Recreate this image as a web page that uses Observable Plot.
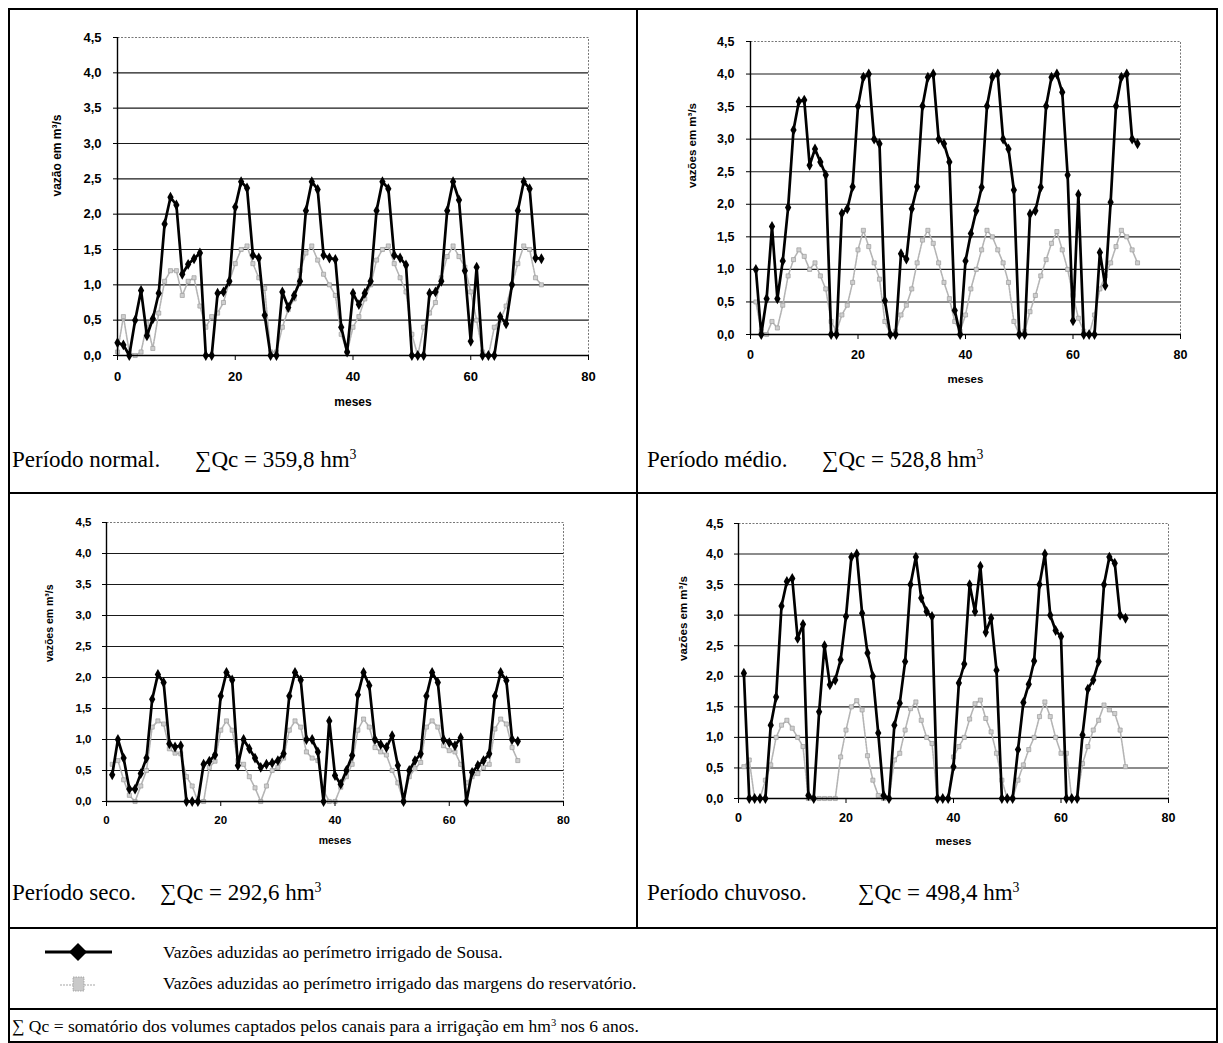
<!DOCTYPE html>
<html><head><meta charset="utf-8">
<script src="https://cdn.jsdelivr.net/npm/d3@7"></script>
<script src="https://cdn.jsdelivr.net/npm/@observablehq/plot@0.6"></script>
<style>
body{margin:0;background:#fff;}
#page{position:relative;width:1223px;height:1043px;overflow:hidden;background:#fff;font-family:"Liberation Serif","Times New Roman",serif;color:#000;}
.ln{position:absolute;background:#000;}
.cap{position:absolute;font-size:23px;white-space:nowrap;line-height:26px;}
.leg{position:absolute;font-size:17.5px;white-space:nowrap;line-height:20px;}
.chart{position:absolute;}
sup{font-size:60%;vertical-align:0;position:relative;top:-0.55em;}
</style></head><body><div id="page"></div>
<script>
// ---------- data (m3/s per month) ----------
const yTicks = [0,0.5,1,1.5,2,2.5,3,3.5,4,4.5];
const xTicks = [0,20,40,60,80];

// Período normal (months 0..72)
const normalMonthStart = 0;
const normalSousa = [0.18,0.15,0,0.5,0.92,0.28,0.52,0.88,1.86,2.24,2.13,1.15,
 1.29,1.37,1.45,0,0,0.88,0.9,1.05,2.1,2.46,2.37,1.42,
 1.38,0.57,0,0,0.9,0.68,0.85,1.05,2.05,2.46,2.35,1.42,
 1.38,1.36,0.4,0.05,0.88,0.72,0.88,1.05,2.05,2.46,2.36,1.42,
 1.38,1.28,0,0,0,0.88,0.9,1.05,2.05,2.46,2.2,1.2,
 0.2,1.25,0,0,0,0.55,0.45,1.0,2.05,2.46,2.36,1.38,1.37];
const normalMargens = [0.05,0.55,0.05,0.0,0.05,0.45,0.1,0.6,1.05,1.2,1.2,0.85,
 1.05,1.1,0.7,0.4,0.55,0.6,0.75,1.05,1.3,1.5,1.55,1.3,
 1.1,0.95,0.05,0.05,0.4,0.65,0.8,1.2,1.45,1.55,1.35,1.15,
 1.0,0.85,0.3,0.05,0.4,0.55,0.8,1.0,1.35,1.5,1.55,1.3,
 1.1,0.9,0.3,0.0,0.4,0.6,0.75,1.1,1.4,1.55,1.4,1.25,
 0.9,0.5,0.05,0.0,0.4,0.5,0.7,1.0,1.3,1.55,1.5,1.1,1.0];

// Período médio (months 1..72)
const medioMonthStart = 1;
const medioSousa = [1.0,0.0,0.55,1.66,0.55,1.13,1.95,3.14,3.58,3.6,2.6,2.85,
 2.65,2.45,0,0,1.86,1.93,2.27,3.51,3.95,4.0,3.0,2.93,
 0.52,0,0,1.24,1.16,1.93,2.27,3.51,3.95,4.0,3.0,2.93,
 2.65,0.37,0,1.13,1.55,1.9,2.26,3.51,3.95,4.0,3.0,2.85,
 2.22,0,0,1.85,1.9,2.26,3.51,3.95,4.0,3.72,2.45,0.21,
 2.15,0,0,0,1.26,0.75,2.03,3.51,3.95,4.0,3.0,2.93];
const medioMargens = [0.5,0.05,0.0,0.2,0.1,0.45,0.9,1.15,1.3,1.2,1.0,1.1,
 0.9,0.7,0.2,0.05,0.3,0.45,0.8,1.3,1.6,1.35,1.1,0.85,
 0.2,0.0,0.05,0.3,0.45,0.7,1.1,1.45,1.6,1.4,1.1,0.8,
 0.55,0.2,0.05,0.3,0.7,1.0,1.3,1.6,1.5,1.3,1.1,0.8,
 0.2,0.0,0.05,0.35,0.6,0.9,1.15,1.4,1.58,1.3,1.0,0.6,
 0.25,0.05,0.0,0.3,0.7,0.9,1.1,1.35,1.6,1.5,1.3,1.1];

// Período seco (months 1..72)
const secoMonthStart = 1;
const secoSousa = [0.43,1.0,0.7,0.2,0.2,0.45,0.7,1.65,2.05,1.92,0.93,0.88,
 0.9,0,0,0,0.6,0.65,0.75,1.7,2.08,1.96,0.58,1.0,
 0.85,0.7,0.55,0.6,0.62,0.66,0.77,1.7,2.08,1.96,1.0,1.0,
 0.8,0.0,1.3,0.42,0.28,0.5,0.74,1.72,2.08,1.87,1.0,0.92,
 0.87,1.06,0.58,0.0,0.5,0.66,0.77,1.7,2.08,1.92,1.0,0.95,
 0.9,1.03,0.0,0.47,0.58,0.66,0.77,1.7,2.08,1.95,1.0,0.97];
const secoMargens = [0.6,0.66,0.35,0.1,0.0,0.25,0.5,1.2,1.3,1.25,0.85,0.78,
 0.77,0.4,0.25,0.0,0.0,0.55,0.65,1.15,1.3,1.15,0.66,0.6,
 0.4,0.22,0.0,0.25,0.5,0.55,0.7,1.15,1.3,1.2,0.8,0.7,
 0.66,0.18,0.0,0.0,0.23,0.4,0.6,1.15,1.33,1.2,0.87,0.8,
 0.75,0.5,0.3,0.0,0.4,0.53,0.63,1.2,1.3,1.2,0.9,0.82,
 0.8,0.6,0.3,0.4,0.45,0.55,0.6,1.17,1.33,1.25,0.87,0.66];

// Período chuvoso (months 1..72)
const chuvosoMonthStart = 1;
const chuvosoSousa = [2.05,0.0,0.0,0.0,0.0,1.2,1.66,3.15,3.55,3.6,2.62,2.85,
 0.05,0.0,1.42,2.5,1.86,1.94,2.27,2.98,3.95,4.0,3.03,2.38,
 2.0,1.07,0.05,0.0,1.2,1.56,2.24,3.5,3.95,3.28,3.06,2.98,
 0.0,0.0,0.0,0.52,1.89,2.2,3.5,3.06,3.8,2.72,2.95,2.1,
 0.0,0.0,0.0,0.8,1.57,1.87,2.25,3.5,4.0,3.0,2.75,2.65,
 0.0,0.0,0.0,1.04,1.79,1.94,2.24,3.5,3.95,3.85,3.0,2.95];
const chuvosoMargens = [0.52,0.63,0.0,0.0,0.3,0.55,1.0,1.2,1.28,1.15,1.0,0.85,
 0.0,0.0,0.0,0.0,0.0,0.0,0.68,1.12,1.5,1.6,1.45,0.7,
 0.3,0.05,0.0,0.0,0.63,0.74,1.12,1.47,1.58,1.28,1.0,0.9,
 0.0,0.0,0.0,0.68,0.85,1.0,1.3,1.55,1.61,1.31,1.09,0.74,
 0.3,0.0,0.0,0.3,0.55,0.8,1.0,1.34,1.58,1.34,1.0,0.74,
 0.74,0.0,0.0,0.57,0.85,1.12,1.28,1.53,1.45,1.39,1.12,0.52];

const captions = [
  {periodo:"Período normal.", soma:"359,8"},
  {periodo:"Período médio.", soma:"528,8"},
  {periodo:"Período seco.", soma:"292,6"},
  {periodo:"Período chuvoso.", soma:"498,4"}
];
const legendSousa = "Vazões aduzidas ao perímetro irrigado de Sousa.";
const legendMargens = "Vazões aduzidas ao perímetro irrigado das margens do reservatório.";
const footnote = "∑ Qc = somatório dos volumes captados pelos canais para a irrigação em hm<sup>3</sup> nos 6 anos.";

// ---------- chart builder ----------
const fmt = d => d.toFixed(1).replace(".", ",");
function chart(o) {
  const dS = o.sousa.map((v,i)=>({m:o.start+i, v}));
  const dM = o.margens.map((v,i)=>({m:o.start+i, v}));
  return Plot.plot({
    width:o.width, height:o.height,
    marginLeft:o.ml, marginRight:o.mr, marginTop:o.mt, marginBottom:o.mb,
    style:{fontFamily:"'Liberation Sans', Arial, sans-serif", fontSize:o.fs+"px", color:"#000", background:"transparent", overflow:"visible"},
    x:{domain:[0,80]},
    y:{domain:[0,4.5]},
    marks:[
      Plot.ruleY(yTicks.filter(d=>d>0 && d<4.5), {stroke:"#1a1a1a", strokeWidth:1.1}),
      Plot.frame({stroke:"#777", strokeDasharray:"2,1.5", strokeWidth:1}),
      Plot.line(dM, {x:"m", y:"v", stroke:"#b4b4b4", strokeWidth:1.6, strokeDasharray:"2,1"}),
      Plot.dot(dM, {x:"m", y:"v", symbol:"square", r:2.3, fill:"#cfcfcf", stroke:"#9c9c9c", strokeWidth:0.7}),
      Plot.line(dS, {x:"m", y:"v", stroke:"#000", strokeWidth:2.7}),
      Plot.dot(dS, {x:"m", y:"v", symbol:"diamond", r:3.3, fill:"#000"}),
      Plot.ruleX([0], {stroke:"#000", strokeWidth:1.4}),
      Plot.ruleY([0], {stroke:"#000", strokeWidth:1.4}),
      Plot.axisY(yTicks, {tickFormat:fmt, tickSize:4, tickPadding:o.ytp, label:null, fontWeight:"bold"}),
      Plot.axisX(xTicks, {tickSize:5, tickPadding:o.xtp, label:null, fontWeight:"bold"}),
      Plot.text([o.ylabel], {frameAnchor:"left", dx:-o.ylo, rotate:-90, fontWeight:"bold", fontSize:o.fs-1}),
      Plot.text(["meses"], {frameAnchor:"bottom", dy:o.xlo, fontWeight:"bold", fontSize:o.fs-1})
    ]
  });
}

const page = document.getElementById("page");
function place(el, left, top) {
  const w = document.createElement("div");
  w.className = "chart"; w.style.left = left+"px"; w.style.top = top+"px";
  w.appendChild(el); page.appendChild(w);
}
place(chart({sousa:normalSousa, margens:normalMargens, start:normalMonthStart, ylabel:"vazão em m³/s",
  width:620, height:420, ml:117, mr:32, mt:37, mb:65, fs:13, ytp:12, xtp:11, ylo:60, xlo:50}), 0, 0);
place(chart({sousa:medioSousa, margens:medioMargens, start:medioMonthStart, ylabel:"vazões em m³/s",
  width:564, height:400, ml:114, mr:20, mt:41, mb:66, fs:12.5, ytp:12, xtp:11, ylo:58, xlo:48}), 636, 0);
place(chart({sousa:secoSousa, margens:secoMargens, start:secoMonthStart, ylabel:"vazões em m³/s",
  width:603, height:369, ml:106, mr:40, mt:30, mb:60, fs:11.5, ytp:11, xtp:9, ylo:57, xlo:42}), 0, 492);
place(chart({sousa:chuvosoSousa, margens:chuvosoMargens, start:chuvosoMonthStart, ylabel:"vazões em m³/s",
  width:576, height:366, ml:102, mr:44, mt:31, mb:60, fs:12.5, ytp:11, xtp:10, ylo:55, xlo:46}), 636, 492);

// ---------- table lines ----------
function line(l,t,w,h){const d=document.createElement("div");d.className="ln";d.style.left=l+"px";d.style.top=t+"px";d.style.width=w+"px";d.style.height=h+"px";page.appendChild(d);}
line(8,8,1209,1.5);      // top
line(8,8,1.5,1035);      // left
line(1216,8,1.5,1035);   // right
line(8,1041,1209,1.5);   // bottom
line(636,8,1.5,920);     // middle
line(8,492,1209,1.5);
line(8,927,1209,1.5);
line(8,1008,1209,1.5);

// ---------- captions ----------
function text(cls, html, l, t){const d=document.createElement("div");d.className=cls;d.innerHTML=html;d.style.left=l+"px";d.style.top=t+"px";page.appendChild(d);}
const capPos = [[12,195,447],[647,822,447],[12,160,880],[647,858,880]];
captions.forEach((c,i)=>{
  const [lx,sx,t] = capPos[i];
  text("cap", c.periodo, lx, t);
  text("cap", "∑Qc = "+c.soma+" hm<sup>3</sup>", sx, t);
});
text("leg", legendSousa, 163, 942);
text("leg", legendMargens, 163, 973);
text("leg", footnote, 12, 1016);

// legend symbols
const ns="http://www.w3.org/2000/svg";
const sv=document.createElementNS(ns,"svg");
sv.setAttribute("width","130");sv.setAttribute("height","70");
sv.style.position="absolute";sv.style.left="20px";sv.style.top="930px";
sv.innerHTML = '<line x1="25" y1="22" x2="92" y2="22" stroke="#000" stroke-width="3"/>'+
 '<path d="M58,13 L67,22 L58,31 L49,22 Z" fill="#000"/>'+
 '<line x1="40" y1="55" x2="75" y2="55" stroke="#c4c4c4" stroke-width="1.5" stroke-dasharray="2,1"/>'+
 '<rect x="53" y="47" width="11" height="14" fill="#c9c9c9" stroke="#9a9a9a" stroke-width="0.8" stroke-dasharray="1.5,1"/>';
page.appendChild(sv);
</script>
</body></html>
